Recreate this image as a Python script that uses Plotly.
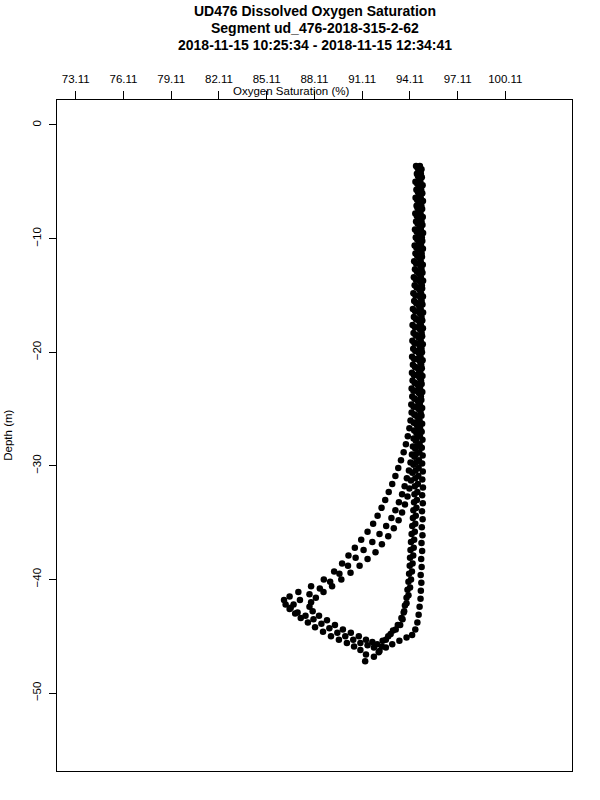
import plotly.graph_objects as go

# ---- data ----
tick_values = [73.11, 76.11, 79.11, 82.11, 85.11, 88.11, 91.11, 94.11, 97.11, 100.11]
tick_labels = ["73.11", "76.11", "79.11", "82.11", "85.11", "88.11", "91.11", "94.11", "97.11", "100.11"]
depth_ticks = [0, -10, -20, -30, -40, -50]

# dive 1 downcast (outer left branch)
d1_down_depth = [-3.6, -4.3, -5.0, -5.7, -6.4, -7.1, -7.8, -8.5, -9.2, -9.9, -10.6, -11.3, -12.0, -12.7, -13.4,
                 -14.1, -14.8, -15.5, -16.2, -16.9, -17.6, -18.3, -19.0, -19.7, -20.4, -21.1, -21.8, -22.5,
                 -23.2, -23.9, -24.6, -25.3, -26.0,
                 -26.7, -27.4, -28.1, -28.8, -29.5, -30.2, -30.9, -31.6, -32.3, -33.0, -33.7, -34.4, -35.1,
                 -35.8, -36.5, -37.2, -37.9, -38.6, -39.3, -40.0, -40.6, -41.1, -41.5, -41.8,
                 -42.2, -42.6, -43.0, -43.4, -43.8, -44.2, -44.6, -45.0, -45.3, -45.6, -45.9, -46.2, -46.6, -47.2]
d1_down_oxy = [94.50, 94.55, 94.46, 94.52, 94.47, 94.53, 94.45, 94.50, 94.43, 94.48, 94.41, 94.46, 94.38, 94.43,
               94.36, 94.41, 94.33, 94.38, 94.30, 94.36, 94.28, 94.34, 94.27, 94.32, 94.25, 94.30, 94.24, 94.28,
               94.22, 94.26, 94.20, 94.22, 94.15,
               94.08, 93.98, 93.86, 93.72, 93.55, 93.38, 93.20, 93.00, 92.78, 92.56, 92.33, 92.08, 91.80,
               91.45, 91.05, 90.65, 90.25, 89.85, 89.35, 88.70, 87.90, 87.10, 86.55, 86.20,
               86.30, 86.55, 86.90, 87.25, 87.70, 88.15, 88.65, 89.15, 89.65, 90.15, 90.60, 91.00, 91.35, 91.30]

# dive 1 upcast (inner right branch)
d1_up_depth = [-46.8, -46.4, -45.9, -45.3, -44.8, -44.4, -44.0, -43.5, -42.9, -42.3, -41.6, -40.9, -40.2, -39.5,
               -38.8, -38.1, -37.4, -36.7, -36.0, -35.3, -34.6, -33.9, -33.2, -32.5, -31.8, -31.1, -30.4, -29.7,
               -29.0, -28.3, -27.6, -26.9,
               -26.2, -25.5, -24.8, -24.1, -23.4, -22.7, -22.0, -21.3, -20.6, -19.9, -19.2, -18.5, -17.8, -17.1,
               -16.4, -15.7, -15.0, -14.3, -13.6, -12.9, -12.2, -11.5, -10.8, -10.1, -9.4, -8.7, -8.0, -7.3,
               -6.6, -5.9, -5.2, -4.5, -3.8]
d1_up_oxy = [91.85, 92.15, 92.35, 92.60, 92.90, 93.22, 93.50, 93.65, 93.72, 93.80, 93.90, 93.96, 94.02, 94.06,
             94.10, 94.12, 94.15, 94.18, 94.22, 94.26, 94.30, 94.33, 94.37, 94.40, 94.42, 94.45, 94.47, 94.50,
             94.48, 94.52, 94.49, 94.54,
             94.36, 94.42, 94.34, 94.40, 94.33, 94.41, 94.36, 94.43, 94.38, 94.45, 94.40, 94.47, 94.42, 94.49,
             94.44, 94.51, 94.46, 94.53, 94.48, 94.55, 94.50, 94.57, 94.52, 94.58, 94.54, 94.60, 94.55, 94.61,
             94.57, 94.62, 94.58, 94.63, 94.60]

# dive 2 downcast (middle left branch)
d2_down_depth = [-3.8, -4.5, -5.2, -5.9, -6.6, -7.3, -8.0, -8.7, -9.4, -10.1, -10.8, -11.5, -12.2, -12.9, -13.6,
                 -14.3, -15.0, -15.7, -16.4, -17.1, -17.8, -18.5, -19.2, -19.9, -20.6, -21.3, -22.0, -22.7,
                 -23.4, -24.1, -24.8, -25.5, -26.2, -26.9,
                 -27.6, -28.3, -29.0, -29.7, -30.4, -31.1, -31.8, -32.5, -33.2, -33.9, -34.6, -35.3, -36.0,
                 -36.7, -37.4, -38.1, -38.8, -39.5, -40.2, -40.8, -41.3, -41.8, -42.2, -42.5,
                 -42.9, -43.2, -43.5, -43.9, -44.3, -44.7, -45.0, -45.3, -45.6, -45.8, -46.0, -46.3]
d2_down_oxy = [94.66, 94.62, 94.70, 94.63, 94.68, 94.60, 94.67, 94.72, 94.62, 94.68, 94.58, 94.65, 94.70, 94.60,
               94.55, 94.63, 94.67, 94.57, 94.62, 94.54, 94.60, 94.55, 94.50, 94.58, 94.52, 94.47, 94.55, 94.46,
               94.50, 94.42, 94.47, 94.40, 94.44, 94.38,
               94.34, 94.30, 94.24, 94.15, 94.05, 93.92, 93.78, 93.62, 93.42, 93.20, 92.95, 92.62, 92.20,
               91.75, 91.20, 90.70, 90.22, 89.68, 89.10, 88.45, 87.80, 87.20, 86.80, 86.62,
               87.05, 87.55, 88.05, 88.55, 89.05, 89.55, 90.05, 90.55, 91.00, 91.45, 91.85, 92.20]

# dive 2 upcast (outer right branch)
d2_up_depth = [-46.0, -45.7, -45.4, -45.1, -44.9, -44.4, -43.8, -43.1, -42.4, -41.7, -41.0, -40.3, -39.6, -38.9,
               -38.2, -37.5, -36.8, -36.1, -35.4, -34.7, -34.0, -33.3, -32.6, -31.9, -31.2, -30.5, -29.8, -29.1,
               -28.4, -27.7, -27.0, -26.3,
               -25.6, -24.9, -24.2, -23.5, -22.8, -22.1, -21.4, -20.7, -20.0, -19.3, -18.6, -17.9, -17.2, -16.5,
               -15.8, -15.1, -14.4, -13.7, -13.0, -12.3, -11.6, -10.9, -10.2, -9.5, -8.8, -8.1, -7.4, -6.7,
               -6.0, -5.3, -4.6, -3.9]
d2_up_oxy = [92.60, 93.00, 93.45, 93.90, 94.25, 94.45, 94.58, 94.66, 94.72, 94.78, 94.80, 94.83, 94.79, 94.85,
             94.82, 94.88, 94.84, 94.90, 94.86, 94.91, 94.87, 94.92, 94.88, 94.93, 94.89, 94.92, 94.88, 94.91,
             94.86, 94.90, 94.85, 94.88,
             94.84, 94.88, 94.83, 94.89, 94.85, 94.90, 94.86, 94.91, 94.87, 94.92, 94.88, 94.93, 94.89, 94.94,
             94.90, 94.93, 94.88, 94.94, 94.90, 94.92, 94.87, 94.93, 94.89, 94.94, 94.90, 94.92, 94.88, 94.93,
             94.89, 94.91, 94.86, 94.84]

# dive 3 downcast (inner left branch)
d3_down_depth = [-4.0, -4.7, -5.4, -6.1, -6.8, -7.5, -8.2, -8.9, -9.6, -10.3, -11.0, -11.7, -12.4, -13.1, -13.8,
                 -14.5, -15.2, -15.9, -16.6, -17.3, -18.0, -18.7, -19.4, -20.1, -20.8, -21.5, -22.2, -22.9,
                 -23.6, -24.3, -25.0, -25.7, -26.4, -27.1, -27.8,
                 -28.5, -29.2, -29.9, -30.6, -31.3, -32.0, -32.7, -33.4, -34.1, -34.8, -35.5, -36.2, -36.9,
                 -37.6, -38.2, -38.8, -39.4, -40.0, -40.6, -41.1, -41.6, -42.0,
                 -42.4, -42.8, -43.2, -43.6, -44.0, -44.4, -44.7, -45.0, -45.3, -45.5, -45.7]
d3_down_oxy = [94.76, 94.72, 94.79, 94.74, 94.78, 94.71, 94.77, 94.73, 94.79, 94.70, 94.76, 94.72, 94.78, 94.69,
               94.75, 94.71, 94.77, 94.68, 94.74, 94.70, 94.75, 94.66, 94.72, 94.68, 94.73, 94.64, 94.70, 94.62,
               94.67, 94.60, 94.65, 94.58, 94.55, 94.52, 94.48,
               94.45, 94.40, 94.34, 94.27, 94.18, 94.08, 93.96, 93.80, 93.62, 93.40, 93.10, 92.75, 92.35,
               91.95, 91.45, 90.95, 90.38, 89.80, 89.22, 88.68, 88.20, 87.90,
               87.80, 88.00, 88.40, 88.90, 89.40, 89.90, 90.40, 90.90, 91.35, 91.75, 92.05]

# dive 3 upcast (inner right branch, second pass)
d3_up_depth = [-45.4, -45.0, -44.5, -44.0, -43.4, -42.8, -42.1, -41.4, -40.7, -40.0, -39.3, -38.6, -37.9, -37.2,
               -36.5, -35.8, -35.1, -34.4, -33.7, -33.0, -32.3, -31.6, -30.9, -30.2, -29.5, -28.8, -28.1, -27.4,
               -26.7,
               -26.0, -25.3, -24.6, -23.9, -23.2, -22.5, -21.8, -21.1, -20.4, -19.7, -19.0, -18.3, -17.6, -16.9,
               -16.2, -15.5, -14.8, -14.1, -13.4, -12.7, -12.0, -11.3, -10.6, -9.9, -9.2, -8.5, -7.8, -7.1,
               -6.4, -5.7, -5.0, -4.3, -3.6]
d3_up_oxy = [92.40, 92.75, 93.05, 93.35, 93.58, 93.75, 93.90, 94.02, 94.12, 94.18, 94.24, 94.28, 94.32, 94.35,
             94.38, 94.42, 94.45, 94.48, 94.52, 94.55, 94.58, 94.61, 94.64, 94.66, 94.68, 94.70, 94.72, 94.74,
             94.75,
             94.72, 94.78, 94.74, 94.80, 94.75, 94.81, 94.77, 94.82, 94.78, 94.84, 94.79, 94.85, 94.80, 94.84,
             94.79, 94.85, 94.81, 94.86, 94.80, 94.84, 94.79, 94.85, 94.81, 94.86, 94.80, 94.84, 94.78, 94.83,
             94.79, 94.82, 94.77, 94.80, 94.74]

legs = [
    (d1_down_oxy, d1_down_depth), (d1_up_oxy, d1_up_depth),
    (d2_down_oxy, d2_down_depth), (d2_up_oxy, d2_up_depth),
    (d3_down_oxy, d3_down_depth), (d3_up_oxy, d3_up_depth),
]
for ox, dp in legs:
    assert len(ox) == len(dp), (len(ox), len(dp))

FONT = "Liberation Sans, Arial, Helvetica, sans-serif"

fig = go.Figure()
for ox, dp in legs:
    fig.add_trace(go.Scatter(
        x=ox, y=dp, mode="markers",
        marker=dict(color="black", size=6.5, line=dict(width=0)),
        showlegend=False, hoverinfo="skip",
    ))

fig.update_layout(
    width=600, height=800,
    margin=dict(l=57, r=28, t=100, b=29),
    paper_bgcolor="white", plot_bgcolor="white",
    font=dict(family=FONT, color="black", size=11.5),
    xaxis=dict(
        side="top", range=[71.93, 104.30],
        tickmode="array", tickvals=tick_values, ticktext=tick_labels,
        ticks="outside", ticklen=8, tickwidth=1, tickcolor="black",
        showline=True, linecolor="black", linewidth=1, mirror=True,
        showgrid=False, zeroline=False, ticklabelstandoff=3,
        tickfont=dict(size=11.5, family=FONT),
    ),
    yaxis=dict(
        range=[-56.86, 2.2],
        tickmode="array", tickvals=depth_ticks,
        ticks="outside", ticklen=7, tickwidth=1, tickcolor="black",
        showline=True, linecolor="black", linewidth=1, mirror=True,
        showgrid=False, zeroline=False, tickangle=-90, ticklabelstandoff=3,
        tickfont=dict(size=11.5, family=FONT),
    ),
)

title_lines = [
    ("UD476 Dissolved Oxygen Saturation", 1.1326),
    ("Segment ud_476-2018-315-2-62", 1.1073),
    ("2018-11-15 10:25:34 - 2018-11-15 12:34:41", 1.0819),
]
for txt, yy in title_lines:
    fig.add_annotation(text="<b>" + txt + "</b>", xref="paper", yref="paper", x=0.5, y=yy,
                       xanchor="center", yanchor="middle", showarrow=False,
                       font=dict(size=14, family=FONT, color="black"))

fig.add_annotation(text="Oxygen Saturation (%)", xref="paper", yref="paper", x=0.455, y=1.0127,
                   xanchor="center", yanchor="middle", showarrow=False,
                   font=dict(size=11.5, family=FONT, color="black"))
fig.add_annotation(text="Depth (m)", xref="paper", yref="paper", x=-0.0953, y=0.501,
                   xanchor="center", yanchor="middle", showarrow=False, textangle=-90,
                   font=dict(size=11.5, family=FONT, color="black"))

# remove the default 8px page margin so the figure sits at the window's top-left corner
fig.write_html("out.html", config={"displayModeBar": False},
               post_script="document.body.style.margin='0px';")
